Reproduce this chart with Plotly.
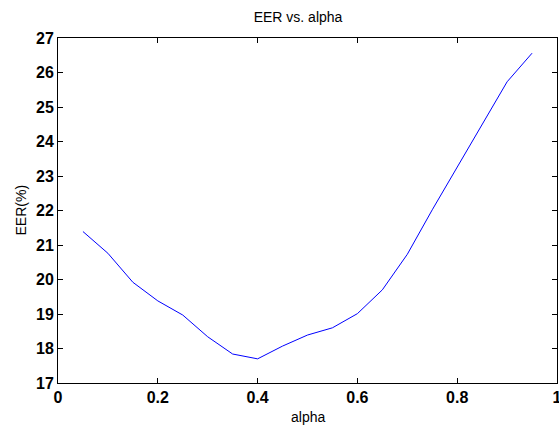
import plotly.graph_objects as go

alpha = [0.05, 0.10, 0.15, 0.20, 0.25, 0.30, 0.35, 0.40, 0.45, 0.50,
         0.55, 0.60, 0.65, 0.70, 0.75, 0.80, 0.85, 0.90, 0.95]
eer = [21.39, 20.76, 19.92, 19.38, 18.97, 18.34, 17.84, 17.70, 18.07, 18.39,
       18.60, 19.01, 19.70, 20.73, 22.02, 23.26, 24.50, 25.73, 26.56]

x_ticks = [0, 0.2, 0.4, 0.6, 0.8, 1]
x_tick_labels = ["0", "0.2", "0.4", "0.6", "0.8", "1"]
y_ticks = list(range(17, 28))

FONT = "Liberation Sans, Arial, sans-serif"

fig = go.Figure()
fig.add_trace(go.Scatter(x=alpha, y=eer, mode="lines",
                         line=dict(color="#0000ff", width=1), showlegend=False))

axis_common = dict(
    showgrid=False, zeroline=False, showline=True, linecolor="black", linewidth=1,
    mirror="ticks", ticks="inside", ticklen=5, tickcolor="black", tickwidth=1,
    automargin=False, ticklabeloverflow="allow",
    tickfont=dict(family=FONT, size=16, color="black", weight="bold"),
)

fig.update_layout(
    width=559, height=425,
    margin=dict(l=58, r=2, t=38, b=42),
    paper_bgcolor="white", plot_bgcolor="white",
    title=dict(text="EER vs. alpha", x=298/559, xanchor="center", y=1 - 17/425, yanchor="middle",
               xref="container", automargin=False,
               font=dict(family=FONT, size=14, color="black")),
    xaxis=dict(range=[0, 1], tickvals=x_ticks, ticktext=x_tick_labels, **axis_common),
    yaxis=dict(range=[17, 27], tickvals=y_ticks, **axis_common),
    annotations=[
        dict(text="alpha", x=0.5, xref="paper", y=-34/345, yref="paper",
             xanchor="center", yanchor="middle", showarrow=False,
             font=dict(family=FONT, size=14, color="black")),
        dict(text="EER(%)", x=-38/499, xref="paper", y=0.5, yref="paper",
             xanchor="center", yanchor="middle", textangle=-90, showarrow=False,
             font=dict(family=FONT, size=14, color="black")),
    ],
)

fig.write_html("out.html", config={"displayModeBar": False},
               post_script="document.body.style.margin='0';document.body.style.overflow='hidden';")
